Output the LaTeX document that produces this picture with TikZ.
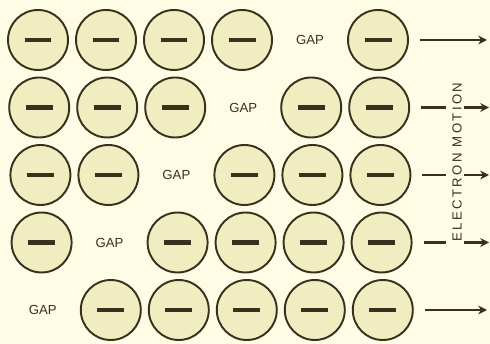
\documentclass[tikz,border=0pt]{standalone}
\usepackage{fontspec}
\setmainfont{Liberation Sans}
\usetikzlibrary{arrows.meta, positioning}
\definecolor{papercol}{RGB}{254,252,228}
\definecolor{ballcol}{RGB}{240,238,192}
\definecolor{inkcol}{RGB}{58,48,30}
\newcommand{\chargebar}{\textcolor{inkcol}{\rule{0.54cm}{2.3pt}}}
\tikzset{
  electron/.style={circle, draw=inkcol, line width=1.1pt, fill=ballcol,
                   minimum size=1.2cm, inner sep=0pt},
  gaplabel/.style={font=\fontsize{7.5}{8}\selectfont, text=inkcol},
  flowline/.style={draw=inkcol, line width=1.4pt},
  flow/.style={flowline, -{Stealth[length=5pt,width=5pt]}},
}

\begin{document}
\begin{tikzpicture}[x=0.02cm,y=0.02cm]

% ── Paper ─────────────────────────────────────────────────────────────────────
\fill[papercol] (0,0) rectangle (490,344);
\useasboundingbox (0,0) rectangle (490,344);

% ── Rows of electrons, the gap moving left ───────────────────────────────────
\foreach \r in {0,...,4} {
  \pgfmathsetmacro{\ypos}{304-67.5*\r}
  \pgfmathtruncatemacro{\gapcol}{4-\r}
  \foreach \c in {0,...,5} {
    \pgfmathsetmacro{\xpos}{38+68*\c+1.2*\r}
    \ifnum\c=\gapcol
      \node[gaplabel] (g\r) at (\xpos,\ypos) {GAP};
    \else
      \node[electron] (e\r-\c) at (\xpos,\ypos) {\chargebar};
    \fi
  }
}

% ── Motion arrows ─────────────────────────────────────────────────────────────
\coordinate (tip0) at (487,304);
\coordinate (tip4) at (487,34);
\draw[flow] ([xshift=0.22cm]e0-5.east) -- (tip0);
\draw[flow] ([xshift=0.22cm]e4-5.east) -- (tip4);

\foreach \r in {1,2,3} {
  \pgfmathsetmacro{\ypos}{304-67.5*\r}
  \coordinate (cut\r) at (446,\ypos);
  \coordinate (restart\r) at (464,\ypos);
  \coordinate (tip\r) at (489,\ypos);
  \draw[flowline] ([xshift=0.22cm]e\r-5.east) -- (cut\r);
  \draw[flow] (restart\r) -- (tip\r);
}

\node[rotate=90, text=inkcol,
      font=\fontsize{7.5}{8}\selectfont\addfontfeature{LetterSpace=18}]
      (motion) at (457,182) {ELECTRON MOTION};

\end{tikzpicture}
\end{document}
